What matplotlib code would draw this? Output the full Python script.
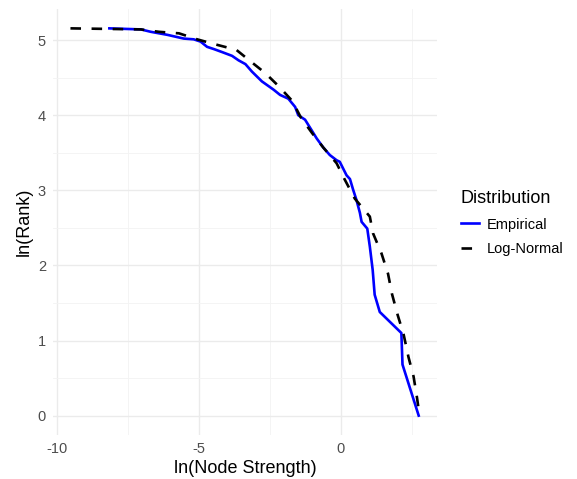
import matplotlib
matplotlib.use("Agg")
import matplotlib.pyplot as plt
from matplotlib.ticker import MultipleLocator

plt.rcParams['font.family'] = ['Liberation Sans', 'DejaVu Sans']
plt.rcParams['axes.unicode_minus'] = False

# Empirical rank-size curve: ln(node strength) vs ln(rank)
emp_x = [-8.15, -7.04, -6.69, -6.11, -5.53, -5.18, -4.94, -4.71, -4.47, -4.18,
         -3.83, -3.60, -3.36, -3.13, -2.78, -2.37, -2.14, -1.85, -1.61, -1.50,
         -1.26, -1.03, -0.85, -0.62, -0.39, -0.15, -0.04, 0.08, 0.20, 0.32,
         0.43, 0.55, 0.67, 0.73, 0.93, 1.02, 1.12, 1.19, 1.37, 2.13, 2.17, 2.74]
emp_y = [5.156, 5.142, 5.11, 5.07, 5.02, 5.01, 4.98, 4.91, 4.88, 4.84,
         4.79, 4.73, 4.68, 4.58, 4.45, 4.34, 4.27, 4.22, 4.11, 4.00,
         3.94, 3.80, 3.69, 3.57, 3.47, 3.40, 3.38, 3.29, 3.20, 3.15,
         3.01, 2.87, 2.70, 2.58, 2.49, 2.25, 1.94, 1.61, 1.38, 1.10, 0.68, 0.0]

# Fitted log-normal rank-size curve
ln_x = [-9.52, -7.04, -6.40, -5.70, -5.06, -4.39, -3.68, -3.19, -2.66, -2.20,
        -1.71, -1.41, -1.01, -0.62, -0.15, 0.14, 0.49, 1.02, 1.13, 1.43,
        1.66, 1.80, 2.00, 2.21, 2.38, 2.56, 2.68, 2.77]
ln_y = [5.156, 5.142, 5.11, 5.09, 5.01, 4.94, 4.87, 4.72, 4.56, 4.39,
        4.19, 3.97, 3.76, 3.57, 3.36, 3.14, 2.89, 2.65, 2.43, 2.16,
        1.89, 1.62, 1.34, 1.08, 0.78, 0.52, 0.24, 0.0]

series_labels = ["Empirical", "Log-Normal"]
legend_title = "Distribution"

W, H = 577, 479
fig = plt.figure(figsize=(W / 100, H / 100), dpi=100)
ax = fig.add_axes([53 / W, 1 - 435 / H, (437 - 53) / W, (435 - 9) / H])

ax.plot(emp_x, emp_y, color="#0000FF", lw=1.9, label=series_labels[0],
        solid_joinstyle="round", zorder=3)
ax.plot(ln_x, ln_y, color="black", lw=1.9, linestyle=(0, (4, 4)),
        label=series_labels[1], zorder=4)

xmin = min(min(emp_x), min(ln_x)); xmax = max(max(emp_x), max(ln_x))
ymin = min(min(emp_y), min(ln_y)); ymax = max(max(emp_y), max(ln_y))
xr = xmax - xmin; yr = ymax - ymin
ax.set_xlim(xmin - 0.05 * xr, xmax + 0.05 * xr)
ax.set_ylim(ymin - 0.05 * yr, ymax + 0.05 * yr)

ax.xaxis.set_major_locator(MultipleLocator(5))
ax.xaxis.set_minor_locator(MultipleLocator(2.5))
ax.yaxis.set_major_locator(MultipleLocator(1))
ax.yaxis.set_minor_locator(MultipleLocator(0.5))

ax.grid(which="major", color="#EBEBEB", lw=1.0)
ax.grid(which="minor", color="#F3F3F3", lw=0.6)
ax.set_axisbelow(True)
for s in ax.spines.values():
    s.set_visible(False)
ax.tick_params(which="both", length=0)
ax.tick_params(axis="both", labelsize=10.5, labelcolor="#4D4D4D", pad=5)

ax.set_xlabel("ln(Node Strength)", fontsize=13, color="black", labelpad=3)
ax.set_ylabel("ln(Rank)", fontsize=13, color="black", labelpad=4)

leg = ax.legend(title=legend_title, loc="center left",
                bbox_to_anchor=(461 / W, 1 - 223 / H), bbox_transform=fig.transFigure,
                frameon=False, fontsize=10.5, title_fontsize=13,
                borderpad=0, borderaxespad=0,
                handlelength=1.25, handletextpad=0.55, labelspacing=0.7)
leg._legend_box.align = "left"

fig.savefig("out.png", dpi=100)
